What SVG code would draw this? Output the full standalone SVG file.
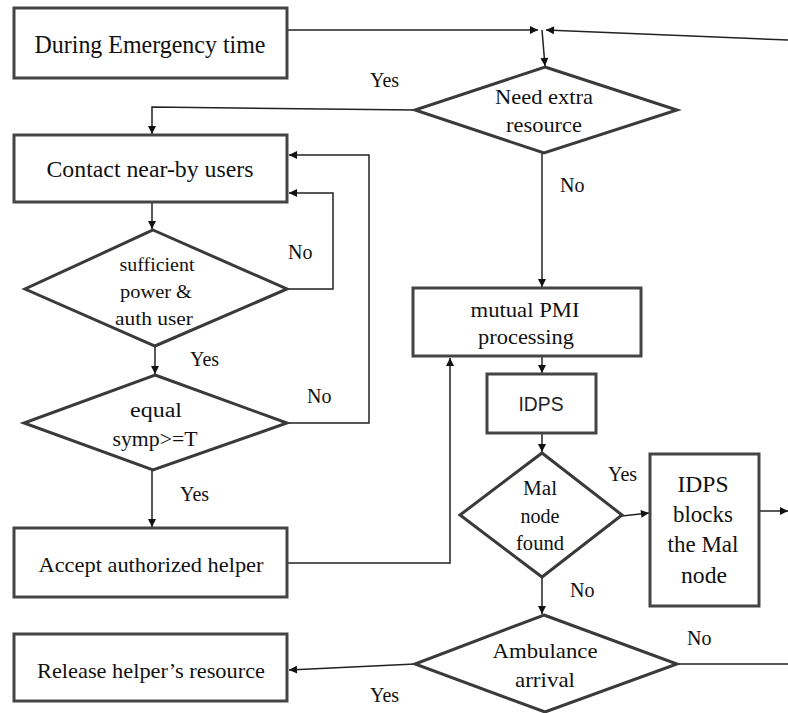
<svg xmlns="http://www.w3.org/2000/svg" width="788" height="713" viewBox="0 0 788 713">
<style>
  .box { fill: #fff; stroke: #444; stroke-width: 3; }
  .dia { fill: #fff; stroke: #3a3a3a; stroke-width: 3; stroke-linejoin: miter; }
  .t { font-family: "Liberation Serif", "Times New Roman", serif; fill: #111; text-anchor: middle; }
  .s { font-family: "Liberation Sans", Arial, sans-serif; fill: #222; text-anchor: middle; }
  .lbl { font-family: "Liberation Serif", "Times New Roman", serif; fill: #111; font-size: 20px; }
  .c { fill: none; stroke: #222; stroke-width: 1.5; }
</style>
<defs>
  <marker id="ah" viewBox="0 0 10 10" refX="10" refY="5" markerWidth="9" markerHeight="8" markerUnits="userSpaceOnUse" orient="auto">
    <path d="M0,0 L10,5 L0,10 z" fill="#111"/>
  </marker>
</defs>
<rect width="788" height="713" fill="#fff"/>

<g id="connectors">
  <path class="c" d="M287,30 L538,30" marker-end="url(#ah)"/>
  <path class="c" d="M788,40 L546,30" marker-end="url(#ah)"/>
  <path class="c" d="M542,30 L545,66" marker-end="url(#ah)"/>
  <path class="c" d="M415,110 L152,107 L152,134" marker-end="url(#ah)"/>
  <path class="c" d="M542,153 L542,287" marker-end="url(#ah)"/>
  <path class="c" d="M152,202 L152,229" marker-end="url(#ah)"/>
  <path class="c" d="M287,289 L333,289 L333,193 L289,193" marker-end="url(#ah)"/>
  <path class="c" d="M155,346 L155,374" marker-end="url(#ah)"/>
  <path class="c" d="M287,423 L369,423 L369,155 L289,155" marker-end="url(#ah)"/>
  <path class="c" d="M152,470 L152,527" marker-end="url(#ah)"/>
  <path class="c" d="M287,563 L450,563 L450,358" marker-end="url(#ah)"/>
  <path class="c" d="M542,356 L542,373" marker-end="url(#ah)"/>
  <path class="c" d="M542,433 L542,452" marker-end="url(#ah)"/>
  <path class="c" d="M622,516 L649,513" marker-end="url(#ah)"/>
  <path class="c" d="M759,511 L788,511" marker-end="url(#ah)"/>
  <path class="c" d="M542,577 L542,614" marker-end="url(#ah)"/>
  <path class="c" d="M677,664 L788,664"/>
  <path class="c" d="M415,664 L289,670" marker-end="url(#ah)"/>
</g>

<g id="labels">
  <text class="lbl" x="370" y="87">Yes</text>
  <text class="lbl" x="560" y="192">No</text>
  <text class="lbl" x="288" y="259">No</text>
  <text class="lbl" x="190" y="366">Yes</text>
  <text class="lbl" x="307" y="403">No</text>
  <text class="lbl" x="180" y="501">Yes</text>
  <text class="lbl" x="608" y="481">Yes</text>
  <text class="lbl" x="570" y="597">No</text>
  <text class="lbl" x="687" y="645">No</text>
  <text class="lbl" x="370" y="702">Yes</text>
</g>

<g id="n-emergency">
  <rect class="box" x="14" y="8" width="273" height="70"/>
  <text class="t" x="150" y="53" font-size="25" textLength="231" lengthAdjust="spacingAndGlyphs">During Emergency time</text>
</g>

<g id="n-need">
  <polygon class="dia" points="545,67 677,110 544,153 415,110"/>
  <text class="t" x="544" y="104" font-size="21" textLength="98" lengthAdjust="spacingAndGlyphs">Need extra</text>
  <text class="t" x="544" y="132" font-size="21" textLength="76" lengthAdjust="spacingAndGlyphs">resource</text>
</g>

<g id="n-contact">
  <rect class="box" x="14" y="135" width="273" height="67"/>
  <text class="t" x="150" y="177" font-size="23" textLength="207" lengthAdjust="spacingAndGlyphs">Contact near-by users</text>
</g>

<g id="n-sufficient">
  <polygon class="dia" points="153,230 287,289 155,346 25,289"/>
  <text class="t" x="157" y="271" font-size="18" textLength="75" lengthAdjust="spacingAndGlyphs">sufficient</text>
  <text class="t" x="156" y="298" font-size="18" textLength="72" lengthAdjust="spacingAndGlyphs">power &amp;</text>
  <text class="t" x="154" y="325" font-size="18" textLength="78" lengthAdjust="spacingAndGlyphs">auth  user</text>
</g>

<g id="n-equal">
  <polygon class="dia" points="155,375 287,423 153,470 24,423"/>
  <text class="t" x="156" y="417" font-size="20" textLength="52" lengthAdjust="spacingAndGlyphs">equal</text>
  <text class="t" x="155" y="446" font-size="20" textLength="85" lengthAdjust="spacingAndGlyphs">symp&gt;=T</text>
</g>

<g id="n-accept">
  <rect class="box" x="14" y="528" width="273" height="69"/>
  <text class="t" x="151" y="572" font-size="22" textLength="225" lengthAdjust="spacingAndGlyphs">Accept authorized helper</text>
</g>

<g id="n-release">
  <rect class="box" x="14" y="634" width="273" height="67"/>
  <text class="t" x="151" y="678" font-size="22" textLength="228" lengthAdjust="spacingAndGlyphs">Release helper’s  resource</text>
</g>

<g id="n-mutual">
  <rect class="box" x="413" y="288" width="228" height="68"/>
  <text class="t" x="525" y="317" font-size="21" textLength="109" lengthAdjust="spacingAndGlyphs">mutual PMI</text>
  <text class="t" x="526" y="344" font-size="21" textLength="96" lengthAdjust="spacingAndGlyphs">processing</text>
</g>

<g id="n-idps">
  <rect class="box" x="487" y="374" width="109" height="59"/>
  <text class="s" x="541" y="411" font-size="21" textLength="45" lengthAdjust="spacingAndGlyphs">IDPS</text>
</g>

<g id="n-mal">
  <polygon class="dia" points="542,453 622,515 542,577 460,515"/>
  <text class="t" x="540" y="495" font-size="20" textLength="34" lengthAdjust="spacingAndGlyphs">Mal</text>
  <text class="t" x="540" y="523" font-size="20" textLength="39" lengthAdjust="spacingAndGlyphs">node</text>
  <text class="t" x="540" y="550" font-size="20" textLength="48" lengthAdjust="spacingAndGlyphs">found</text>
</g>

<g id="n-blocks">
  <rect class="box" x="650" y="454" width="109" height="152"/>
  <text class="t" x="703" y="492" font-size="24" textLength="51" lengthAdjust="spacingAndGlyphs">IDPS</text>
  <text class="t" x="703" y="522" font-size="24" textLength="60" lengthAdjust="spacingAndGlyphs">blocks</text>
  <text class="t" x="703" y="552" font-size="24" textLength="71" lengthAdjust="spacingAndGlyphs">the Mal</text>
  <text class="t" x="704" y="583" font-size="24" textLength="46" lengthAdjust="spacingAndGlyphs">node</text>
</g>

<g id="n-ambulance">
  <polygon class="dia" points="544,615 677,664 545,712 415,664"/>
  <text class="t" x="545" y="658" font-size="22" textLength="105" lengthAdjust="spacingAndGlyphs">Ambulance</text>
  <text class="t" x="545" y="687" font-size="22" textLength="60" lengthAdjust="spacingAndGlyphs">arrival</text>
</g>
</svg>
